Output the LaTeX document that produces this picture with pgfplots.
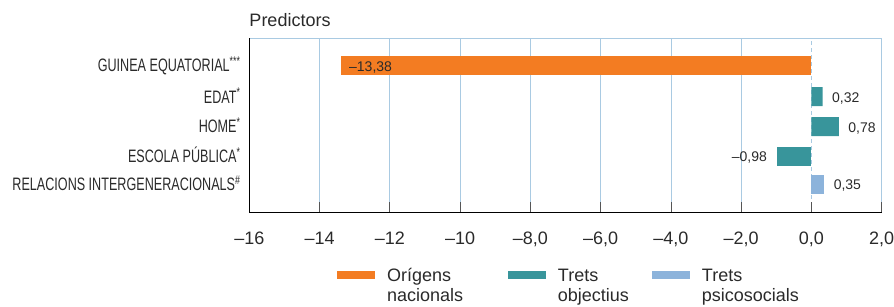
\documentclass[border=0pt]{standalone}
\usepackage{pgfplots}
\pgfplotsset{compat=1.18}
\usepackage{fontspec}
\setmainfont{Liberation Sans}
\newfontfamily\condfont[FakeStretch=0.70]{Liberation Sans}
\definecolor{cOrange}{HTML}{F37C22}
\definecolor{cTeal}{HTML}{38959B}
\definecolor{cLight}{HTML}{8CB3DB}
\definecolor{cGrid}{HTML}{A9CAE2}
\definecolor{cText}{HTML}{2A2A2A}
\definecolor{cTick}{HTML}{555555}
\begin{document}
\begin{tikzpicture}
\begin{axis}[
  name=ax, scale only axis, width=632.4pt, height=174.4pt,
  xmin=-16, xmax=2, ymin=93.3, ymax=267.7,
  clip=false,
  xbar, bar width=19pt, bar shift=0pt,
  axis line style={draw=none},
  xtick={-16,-14,-12,-10,-8,-6,-4,-2,2},
  xticklabels={–16,–14,–12,–10,{–8{,}0},{–6{,}0},{–4{,}0},{–2{,}0},{2{,}0}},
  extra x ticks={0}, extra x tick labels={0{,}0},
  extra x tick style={grid style={cGrid, line width=0.8pt, dash pattern=on 4pt off 3pt}},
  xtick pos=bottom, tick align=inside, major tick length=11pt,
  x tick style={cTick, line width=0.8pt},
  xmajorgrids, grid style={cGrid, line width=0.8pt},
  ytick={240.5,209.3,179.5,149.7,121.7},
  yticklabels={GUINEA EQUATORIAL\textsuperscript{***}, EDAT\textsuperscript{*}, HOME\textsuperscript{*}, ESCOLA PÚBLICA\textsuperscript{*}, RELACIONS INTERGENERACIONALS\textsuperscript{\#}},
  y tick style={draw=none},
  yticklabel style={anchor=base east, inner sep=0pt, xshift=-8.6pt, yshift=-6.4pt, font=\condfont\fontsize{18}{20}\selectfont, text=cText},
  xticklabel style={anchor=base, inner sep=0pt, yshift=-31.3pt, font=\fontsize{18}{20}\selectfont, text=cText},
  legend columns=3,
  legend style={draw=none, fill=none, at={(axis cs:-13.5,37.4)}, anchor=north west, inner sep=0pt, outer sep=0pt,
    nodes={inner sep=0pt, anchor=base west, text=cText, font=\fontsize{18}{19.5}\selectfont},
    /tikz/every odd column/.append style={column sep=12pt}, row sep=0pt},
  legend image code/.code={\fill[#1,draw=none] (0pt,2.4pt) rectangle (38pt,10.4pt);},
]
\addplot[fill=cOrange, draw=none, point meta=explicit symbolic, nodes near coords,
  nodes near coords style={anchor=base west, xshift=4.3pt, yshift=-5.5pt, font=\fontsize{14}{16}\selectfont, text=cText}]
  table[x=x, y=y, meta=l] {
x y l
-13.38 240.5 –13,38
};
\addlegendentry{\parbox[t]{120.8pt}{Orígens\\nacionals}}
\addplot[fill=cTeal, draw=none, point meta=explicit symbolic, nodes near coords,
  nodes near coords style={anchor=base west, xshift=6pt, yshift=-5.5pt, font=\fontsize{14}{16}\selectfont, text=cText}]
  table[x=x, y=y, meta=l] {
x y l
0.32 209.3 0,32
0.78 179.5 0,78
};
\addlegendentry{\parbox[t]{94pt}{Trets\\objectius}}
\addplot[fill=cLight, draw=none, point meta=explicit symbolic, nodes near coords,
  nodes near coords style={anchor=base west, xshift=6.5pt, yshift=-5.5pt, font=\fontsize{14}{16}\selectfont, text=cText}]
  table[x=x, y=y, meta=l] {
x y l
0.35 121.7 0,35
};
\addlegendentry{\parbox[t]{110pt}{Trets\\psicosocials}}
\addplot[forget plot, fill=cTeal, draw=none, point meta=explicit symbolic, nodes near coords,
  nodes near coords style={anchor=base east, xshift=-6.6pt, yshift=-5.5pt, font=\fontsize{14}{16}\selectfont, text=cText}]
  table[x=x, y=y, meta=l] {
x y l
-0.98 149.7 –0,98
};
\draw[cGrid, line width=0.8pt] (rel axis cs:0,1) -- (rel axis cs:1,1);
\draw[black, line width=0.8pt] (rel axis cs:0,0) -- (rel axis cs:0,1);
\draw[black, line width=0.8pt] (rel axis cs:0,0) -- (rel axis cs:1,0);
\node[anchor=base west, inner sep=0pt, yshift=11.6pt, font=\fontsize{18}{20}\selectfont, text=cText] at (rel axis cs:0,1) {Predictors};
\end{axis}
\pgfresetboundingbox
\path[use as bounding box] ([xshift=-249.3pt,yshift=-93.3pt]ax.south west) rectangle ([xshift=12.3pt,yshift=38.3pt]ax.north east);
\end{tikzpicture}
\end{document}
